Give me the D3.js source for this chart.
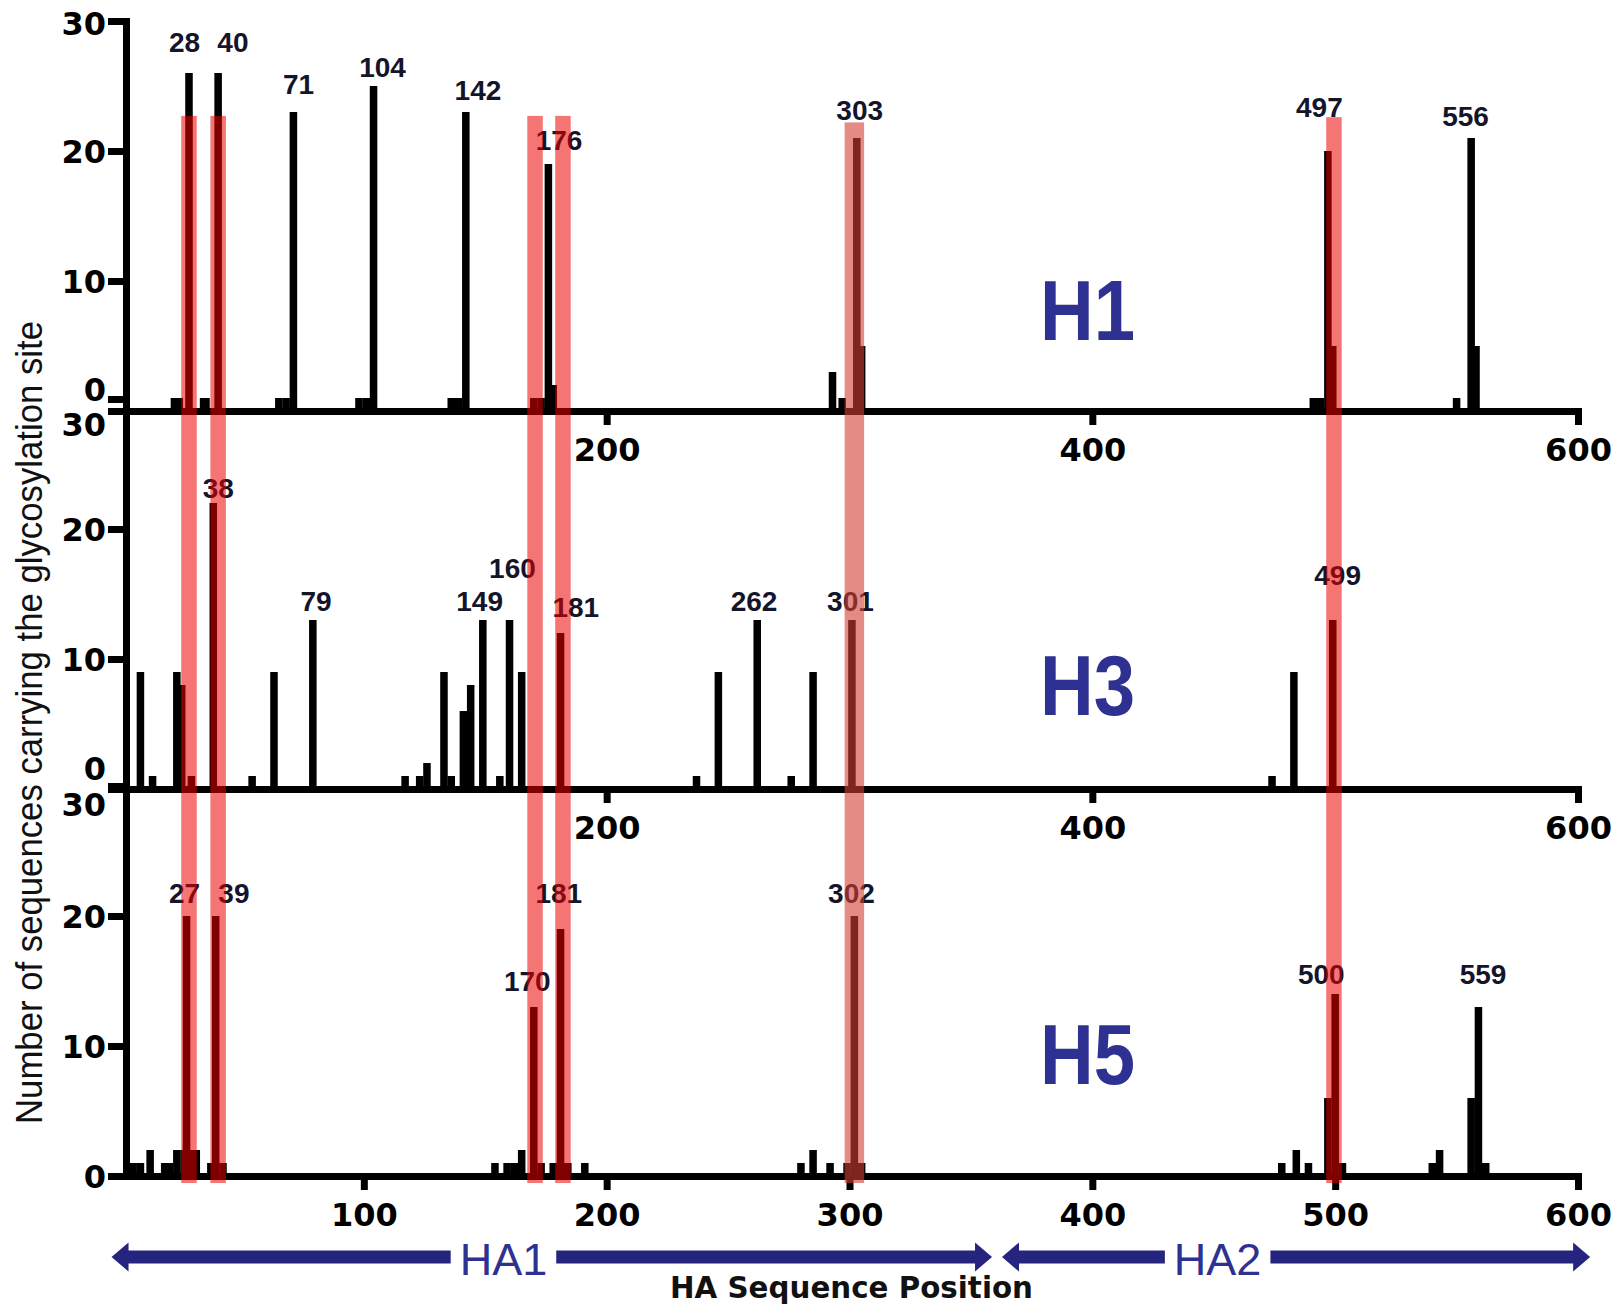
<!DOCTYPE html>
<html><head><meta charset="utf-8">
<script src="https://cdn.jsdelivr.net/npm/d3@7"></script>
<style>html,body{margin:0;padding:0;background:#fff;} svg{display:block;}</style>
</head><body>
<svg id="chart" width="1624" height="1306"></svg>
<script>
// ---------------- DATA ----------------
const subtypes = ["H1", "H3", "H5"];

const h1Positions = [22,24,28,34,35,40,65,68,71,98,101,104,136,139,142,170,173,176,178,293,297,303,305,491,494,497,499,550,556,558];
const h1Counts    = [1, 1, 26,1, 1, 26,1, 1, 23,1, 1,  25, 1,  1,  23, 1,  1,  19, 2,  3,  1,  21, 5,  1,  1,  20, 5,  1,  21, 5];

const h3Positions = [8,13,23,25,29,38,54,63,79,117,123,126,133,136,141,144,149,156,160,165,181,237,246,262,276,285,301,474,483,499];
const h3Counts    = [9,1, 9, 8, 1, 22,1, 9, 13,1,  1,  2,  9,  1,  6,  8,  13, 1,  13, 9,  12, 1,  9,  13, 1,  9,  13, 1,  9,  13];

const h5Positions = [5,8,12,18,20,23,26,27,29,31,37,39,42,154,159,162,165,170,173,178,181,184,191,280,285,292,299,302,305,478,484,489,497,500,503,540,543,556,559,562];
const h5Counts    = [1,1,2, 1, 1, 2, 2, 20,2, 2, 1, 20,1, 1,  1,  1,  2,  13, 1,  1,  19, 1,  1,  1,  2,  1,  1,  20, 1,  1,  2,  1,  6,  14, 1,  1,  2,  6,  13, 1];

// site annotations: text, anchor (sequence position, count)
const h1LabelText = ["28","40","71","104","142","176","303","497","556"];
const h1LabelX    = [26.2,46.1,73.1,107.7,147,180.4,304.2,493.5,553.7];
const h1LabelY    = [27.6,27.6,24.4,25.7,23.9,20.1,22.4,22.6,21.9];

const h3LabelText = ["38","79","149","160","181","262","301","499"];
const h3LabelX    = [40.1,80.3,147.7,161.2,187.3,260.7,300.4,501];
const h3LabelY    = [22.4,13.7,13.7,16.2,13.2,13.7,13.7,15.7];

const h5LabelText = ["27","39","170","181","302","500","559"];
const h5LabelX    = [26.2,46.5,167.3,180.3,300.8,494.3,560.9];
const h5LabelY    = [21,21,14.25,21,21,14.8,14.8];

// subtype name anchors (position, count)
const subtypeNameX = [398, 398, 398];
const subtypeNameY = [5.5, 5.7, 7.1];

// conserved glycosylation sites (highlight bands), top given in H1 count units
const conservedSites  = [28, 40, 170.5, 182, 302, 499.5];
const conservedTopH1  = [22.7, 22.7, 22.7, 22.7, 22.2, 22.6];

// ticks
const yTickValues   = [0, 10, 20, 30];
const xTicksUpper   = [200, 400, 600];
const xTicksBottom  = [100, 200, 300, 400, 500, 600];

// HA domains
const domainNames   = ["HA1", "HA2"];
const domainStart   = [-3.9, 362.8];
const domainEnd     = [358.7, 605];
const domainLabelAt = [157.5, 451.6];

const yTitle = "Number of sequences carrying the glycosylation site";
const xTitle = "HA Sequence Position";

// ---------------- DRAWING ----------------
const svg = d3.select("#chart");
const x = d3.scaleLinear().domain([0, 600]).range([121, 1578]);
const panelRanges = [[411, 21], [789, 399], [1176, 786]];
const AXIS_X = 126;
const BAR_HALF = 1.55;
const LABEL_FONT = "'Liberation Sans', Arial, sans-serif";
const TICK_FONT = "'DejaVu Sans', Verdana, sans-serif";
const NAVY = "#2e3192";
// vertical shift (px) of the tick-label centre for crowded labels at panel joins
const zeroShift = [-22, -21, 0];
const topShift  = [2, 25, 18];
const HALF_CAP = 11.6;

const panelData = [
  {pos: h1Positions, val: h1Counts, lt: h1LabelText, lx: h1LabelX, ly: h1LabelY, xticks: xTicksUpper},
  {pos: h3Positions, val: h3Counts, lt: h3LabelText, lx: h3LabelX, ly: h3LabelY, xticks: xTicksUpper},
  {pos: h5Positions, val: h5Counts, lt: h5LabelText, lx: h5LabelX, ly: h5LabelY, xticks: xTicksBottom}
];

const yScales = [];
panelData.forEach((p, i) => {
  const y = d3.scaleLinear().domain([0, 30]).range(panelRanges[i]);
  yScales.push(y);
  const g = svg.append("g").attr("class", "panel-" + subtypes[i]);

  // bars
  g.append("g").selectAll("rect").data(d3.zip(p.pos, p.val)).join("rect")
    .attr("x", d => x(d[0] - BAR_HALF))
    .attr("width", d => x(d[0] + BAR_HALF) - x(d[0] - BAR_HALF))
    .attr("y", d => y(d[1]))
    .attr("height", d => y(0) - y(d[1]))
    .attr("fill", "#000");

  // x axis
  const xa = g.append("g").attr("transform", `translate(0,${y(0)})`)
    .call(d3.axisBottom(x).tickValues(p.xticks).tickSize(14).tickSizeOuter(0).tickPadding(13));
  xa.select(".domain").attr("stroke", "#000").attr("stroke-width", 7).attr("stroke-linecap", "square");
  xa.selectAll(".tick line").attr("stroke", "#000").attr("stroke-width", 7);
  xa.selectAll(".tick text").attr("font-family", TICK_FONT).attr("font-weight", "bold")
    .attr("font-size", 32).attr("fill", "#000");

  // y axis
  const ya = g.append("g").attr("transform", `translate(${AXIS_X},0)`)
    .call(d3.axisLeft(y).tickValues(yTickValues).tickSize(18).tickSizeOuter(0).tickPadding(2));
  ya.select(".domain").attr("stroke", "#000").attr("stroke-width", 7).attr("stroke-linecap", "square");
  ya.selectAll(".tick line").attr("stroke", "#000").attr("stroke-width", 7);
  ya.selectAll(".tick text").attr("font-family", TICK_FONT).attr("font-weight", "bold")
    .attr("font-size", 32).attr("fill", "#000")
    .attr("dy", null)
    .attr("y", d => HALF_CAP + (d === 0 ? zeroShift[i] : d === 30 ? topShift[i] : 0));

  // site labels
  g.append("g").selectAll("text").data(d3.zip(p.lt, p.lx, p.ly)).join("text")
    .attr("x", d => x(d[1])).attr("y", d => y(d[2]))
    .attr("text-anchor", "middle")
    .attr("font-family", LABEL_FONT).attr("font-weight", "bold").attr("font-size", 28)
    .attr("fill", "#14142a")
    .text(d => d[0]);

  // subtype name
  g.append("text")
    .attr("x", x(subtypeNameX[i])).attr("y", y(subtypeNameY[i]))
    .attr("text-anchor", "middle")
    .attr("font-family", LABEL_FONT).attr("font-weight", "bold").attr("font-size", 86)
    .attr("textLength", 95).attr("lengthAdjust", "spacingAndGlyphs")
    .attr("fill", NAVY)
    .text(subtypes[i]);
});

// conserved-site bands (on top)
const bandTopScale = yScales[0], bandBottomScale = yScales[2];
svg.append("g").attr("class", "bands").selectAll("rect")
  .data(d3.zip(conservedSites, conservedTopH1)).join("rect")
  .attr("x", (d, i) => x(d[0]) - (i === 4 ? 9.75 : 7.75))
  .attr("width", (d, i) => i === 4 ? 19.5 : 15.5)
  .attr("y", d => bandTopScale(d[1]))
  .attr("height", d => bandBottomScale(0) + 7 - bandTopScale(d[1]))
  .attr("fill", (d, i) => i === 4 ? "rgb(212,62,52)" : "rgb(236,0,0)")
  .attr("opacity", (d, i) => i === 4 ? 0.6 : 0.54);

// HA domain arrows
const AY = 1257, SH = 6.5, HL = 17, HH = 14.5, GAP_PAD = 9;
const dg = svg.append("g").attr("class", "domains");
domainNames.forEach((name, i) => {
  const cx = x(domainLabelAt[i]);
  const t = dg.append("text")
    .attr("x", cx).attr("y", 1275).attr("text-anchor", "middle")
    .attr("font-family", LABEL_FONT).attr("font-size", 45).attr("fill", NAVY)
    .text(name);
  const w = t.node().getComputedTextLength();
  const L = x(domainStart[i]), R = x(domainEnd[i]);
  const g1 = cx - w / 2 - GAP_PAD, g2 = cx + w / 2 + GAP_PAD;
  const left = [[L, AY], [L + HL, AY - HH], [L + HL, AY - SH], [g1, AY - SH], [g1, AY + SH], [L + HL, AY + SH], [L + HL, AY + HH]];
  const right = [[R, AY], [R - HL, AY - HH], [R - HL, AY - SH], [g2, AY - SH], [g2, AY + SH], [R - HL, AY + SH], [R - HL, AY + HH]];
  [left, right].forEach(pts => {
    dg.append("path").attr("d", d3.line()(pts) + "Z").attr("fill", "#25257f");
  });
});

// axis titles
svg.append("text")
  .attr("transform", "translate(42,722.5) rotate(-90)")
  .attr("text-anchor", "middle")
  .attr("font-family", LABEL_FONT).attr("font-size", 36)
  .attr("textLength", 803).attr("lengthAdjust", "spacingAndGlyphs")
  .attr("fill", "#111")
  .text(yTitle);

svg.append("text")
  .attr("x", 851.5).attr("y", 1298).attr("text-anchor", "middle")
  .attr("font-family", TICK_FONT).attr("font-weight", "bold").attr("font-size", 30)
  .attr("textLength", 363).attr("lengthAdjust", "spacingAndGlyphs")
  .attr("fill", "#111")
  .text(xTitle);
</script>
</body></html>
